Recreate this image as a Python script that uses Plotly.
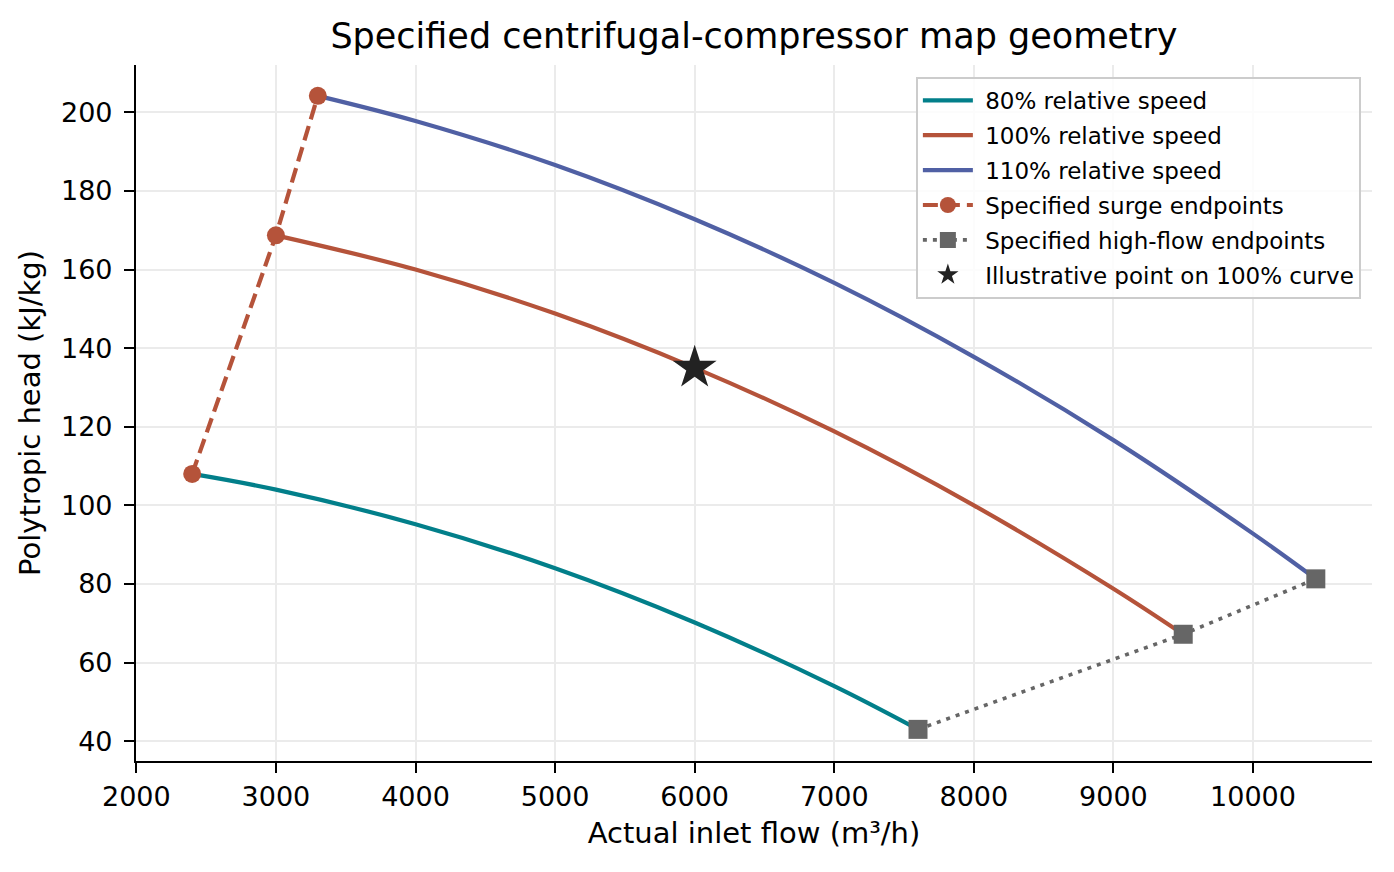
import plotly.graph_objects as go

flow_80 = [2400, 3000, 4000, 5000, 6000, 7000, 7600]
head_80 = [108.0, 104.0, 95.2, 84.0, 70.2, 54.0, 43.0]

flow_100 = [3000, 4000, 5000, 6000, 7000, 8000, 9000, 9500]
head_100 = [168.7, 160.0, 148.8, 135.0, 118.8, 100.0, 78.8, 67.2]

flow_110 = [3300, 4000, 5000, 6000, 7000, 8000, 9000, 10000, 10450]
head_110 = [204.2, 197.8, 186.6, 172.8, 156.6, 137.8, 116.6, 92.8, 81.3]

surge_flow = [2400, 3000, 3300]
surge_head = [108.0, 168.7, 204.2]

choke_flow = [7600, 9500, 10450]
choke_head = [43.0, 67.2, 81.3]

star_flow = [6000]
star_head = [135.0]

x_ticks = [2000, 3000, 4000, 5000, 6000, 7000, 8000, 9000, 10000]
x_labels = ['2000', '3000', '4000', '5000', '6000', '7000', '8000', '9000', '10000']
y_ticks = [40, 60, 80, 100, 120, 140, 160, 180, 200]

TEAL = '#027f8a'
RUST = '#b5533a'
BLUE = '#5060a4'
GREY = '#666666'
FONT = 'DejaVu Sans'
GAP = '\u00a0'  # a bit more room between legend symbol and text

fig = go.Figure()

fig.add_trace(go.Scatter(x=flow_80, y=head_80, mode='lines', name=GAP + '80% relative speed',
                         line=dict(color=TEAL, width=4.2, shape='spline'), legendgroup='a'))
fig.add_trace(go.Scatter(x=flow_100, y=head_100, mode='lines', name=GAP + '100% relative speed',
                         line=dict(color=RUST, width=4.2, shape='spline'), legendgroup='b'))
fig.add_trace(go.Scatter(x=flow_110, y=head_110, mode='lines', name=GAP + '110% relative speed',
                         line=dict(color=BLUE, width=4.2, shape='spline'), legendgroup='c'))

fig.add_trace(go.Scatter(x=surge_flow, y=surge_head, mode='lines+markers', name=GAP + 'Specified surge endpoints',
                         line=dict(color=RUST, width=4.2, dash='15px,7px'),
                         marker=dict(symbol='circle', size=18, color=RUST), legendgroup='d'))
fig.add_trace(go.Scatter(x=choke_flow, y=choke_head, mode='lines+markers', name=GAP + 'Specified high-flow endpoints',
                         line=dict(color=GREY, width=3.6, dash='4px,6px'),
                         marker=dict(symbol='square', size=19, color=GREY), legendgroup='e'))
fig.add_trace(go.Scatter(x=star_flow, y=star_head, mode='markers', name=GAP + 'Illustrative point on 100% curve',
                         marker=dict(symbol='star', size=33, color='#222222'), legendgroup='f'))

fig.update_layout(
    width=1394, height=872,
    margin=dict(l=136, r=22, t=65, b=111),
    paper_bgcolor='white', plot_bgcolor='white',
    font=dict(family=FONT, color='black', size=27),
    title=dict(text='Specified centrifugal-compressor map geometry', x=0.5, xref='paper',
               y=1 - 36 / 872, yanchor='middle', font=dict(size=35)),
    showlegend=True,
    legend=dict(x=0.991, xanchor='right', y=0.983, yanchor='top',
                bgcolor='rgba(255,255,255,0.85)', bordercolor='#cccccc', borderwidth=2,
                font=dict(size=23), itemwidth=50, tracegroupgap=2, traceorder='grouped'),
)

fig.update_xaxes(range=[1997.5, 10852.5], tickvals=x_ticks, ticktext=x_labels, showgrid=True,
                 gridcolor='#ebebeb', gridwidth=2, zeroline=False,
                 showline=True, linecolor='black', linewidth=2.2,
                 ticks='outside', ticklen=10, tickwidth=2.2, tickcolor='black',
                 title=dict(text='Actual inlet flow (m³/h)', font=dict(size=29), standoff=12))
fig.update_yaxes(range=[34.95, 212.05], tickvals=y_ticks, showgrid=True,
                 gridcolor='#ebebeb', gridwidth=2, zeroline=False,
                 showline=True, linecolor='black', linewidth=2.2,
                 ticks='outside', ticklen=10, tickwidth=2.2, tickcolor='black',
                 ticklabelstandoff=6,
                 title=dict(text='Polytropic head (kJ/kg)', font=dict(size=29), standoff=12))

# page body has a default 8px margin; drop it so the figure sits at the window origin
fig.write_html('out.html', config={'displayModeBar': False},
               post_script="document.body.style.margin='0';")
